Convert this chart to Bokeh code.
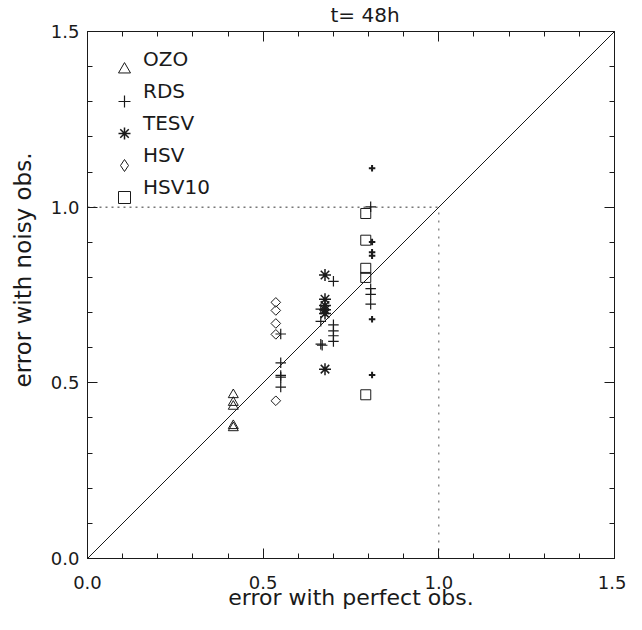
from bokeh.plotting import figure
from bokeh.models import (Range1d, LinearAxis, SingleIntervalTicker, NumeralTickFormatter,
                          Legend, LegendItem, Title)
from bokeh.embed import file_html
from bokeh.resources import INLINE
import math

# ---------------- data ----------------
title = "t= 48h"
x_label = "error with perfect obs."
y_label = "error with noisy obs."
axis_limits = [0.0, 1.5]
major_ticks = [0.0, 0.5, 1.0, 1.5]
ref_level = 1.0

ozo_x = [0.415, 0.415, 0.415, 0.415, 0.415]
ozo_y = [0.466, 0.444, 0.433, 0.378, 0.372]

rds_x = [0.806, 0.806, 0.806, 0.806, 0.700, 0.664, 0.664, 0.700, 0.700, 0.700,
         0.700, 0.664, 0.668, 0.550, 0.550, 0.550, 0.550, 0.550]
rds_y = [1.001, 0.768, 0.752, 0.724, 0.789, 0.710, 0.675, 0.665, 0.648, 0.634,
         0.618, 0.610, 0.607, 0.639, 0.557, 0.521, 0.516, 0.488]
rds_b_x = [0.810, 0.810, 0.810, 0.810, 0.810, 0.810]
rds_b_y = [1.111, 0.901, 0.872, 0.862, 0.681, 0.522]

tesv_x = [0.676, 0.676, 0.676, 0.676, 0.676, 0.676]
tesv_y = [0.807, 0.738, 0.720, 0.708, 0.697, 0.539]

hsv_x = [0.536, 0.536, 0.536, 0.536, 0.536]
hsv_y = [0.729, 0.706, 0.669, 0.638, 0.449]

hsv10_x = [0.792, 0.792, 0.792, 0.792, 0.792]
hsv10_y = [0.982, 0.906, 0.826, 0.800, 0.466]

legend_labels = ["OZO", "RDS", "TESV", "HSV", "HSV10"]

# ---------------- figure ----------------
FONT = "DejaVu Sans"
INK = "#1a1a1a"

p = figure(output_backend="svg", toolbar_location=None,
           frame_width=527, frame_height=527,
           min_border_left=87, min_border_right=12, min_border_top=29, min_border_bottom=10,
           x_range=Range1d(*axis_limits), y_range=Range1d(*axis_limits),
           x_axis_location=None, y_axis_location=None)
p.outline_line_color = None
p.grid.visible = False
p.background_fill_color = "white"
p.border_fill_color = "white"
# a range far from the data: glyphs mapped through it are clipped away (legend-only glyphs)
p.extra_x_ranges = {"legend_only": Range1d(10, 11)}

p.title = Title(text=title, align="left", offset=243, standoff=5, vertical_align="top",
                text_font=FONT, text_font_size="20px", text_font_style="normal",
                text_color=INK)


def style_axis(ax, show_labels=True):
    ax.ticker = SingleIntervalTicker(interval=0.5, num_minor_ticks=5)
    ax.formatter = NumeralTickFormatter(format="0.0")
    ax.axis_line_color = INK
    ax.axis_line_width = 1
    ax.major_tick_line_color = INK
    ax.minor_tick_line_color = INK
    ax.major_tick_in = 10
    ax.major_tick_out = 0
    ax.minor_tick_in = 5
    ax.minor_tick_out = 0
    ax.major_label_text_font = FONT
    ax.major_label_text_color = INK
    ax.axis_label_text_font = FONT
    ax.axis_label_text_color = INK
    ax.axis_label_text_font_style = "normal"
    if show_labels:
        ax.major_label_text_font_size = "18px"
    else:
        ax.major_label_overrides = {t: "" for t in major_ticks}
        ax.major_label_text_font_size = "1px"
        ax.major_label_standoff = 0


xb = LinearAxis(axis_label=x_label)
style_axis(xb)
xb.major_label_standoff = 17
xb.axis_label_standoff = -7
xb.axis_label_text_font_size = "22px"
p.add_layout(xb, "below")

yl = LinearAxis()
style_axis(yl)
yl.major_label_standoff = 8
p.add_layout(yl, "left")

# y-axis title, placed a little above the middle of the axis as in the reference
p.add_layout(Title(text=y_label, align="left", offset=171, standoff=19, vertical_align="top",
                   text_font=FONT, text_font_size="23px", text_font_style="normal",
                   text_color=INK), "left")

xt = LinearAxis()
style_axis(xt, show_labels=False)
p.add_layout(xt, "above")

yr = LinearAxis()
style_axis(yr, show_labels=False)
p.add_layout(yr, "right")

# reference lines
p.line(x=axis_limits, y=axis_limits, line_color=INK, line_width=1)
p.line(x=[axis_limits[0], ref_level], y=[ref_level, ref_level],
       line_color="#333333", line_width=1, line_dash="2 4")
p.line(x=[ref_level, ref_level], y=[axis_limits[0], ref_level],
       line_color="#555555", line_width=1, line_dash="2 6")

# data
r_ozo = p.scatter(ozo_x, ozo_y, marker="triangle", size=10, fill_color=None,
                  line_color=INK, line_width=1)
r_rds = p.scatter(rds_x, rds_y, marker="cross", size=10.5,
                  line_color=INK, line_width=1.2)
p.scatter(rds_b_x, rds_b_y, marker="cross", size=6.5, line_color=INK, line_width=2)
r_tesv = p.scatter(tesv_x, tesv_y, marker="asterisk", size=12,
                   line_color=INK, line_width=1.5)
p.scatter(hsv_x, hsv_y, marker="square", angle=math.pi / 4, size=6.8,
          fill_color=None, line_color=INK, line_width=1)
r_hsv10 = p.scatter(hsv10_x, hsv10_y, marker="square", size=10, fill_color=None,
                    line_color=INK, line_width=1)

# legend-only renderers (mapped off the frame, so nothing shows in the plot area)
r_hsv_leg = p.scatter(hsv_x, hsv_y, x_range_name="legend_only", marker="diamond",
                      size=10, fill_color=None, line_color=INK, line_width=1)
r_blank = p.scatter(hsv_x, hsv_y, x_range_name="legend_only", marker="circle",
                    size=1, fill_alpha=0, line_alpha=0)

common = dict(orientation="vertical", glyph_width=30, glyph_height=32, spacing=0,
              padding=0, margin=0, border_line_color=None, background_fill_alpha=0,
              label_standoff=4, label_text_font=FONT, label_text_color=INK, label_height=20)

# symbols
legend_sym = Legend(items=[LegendItem(label=" ", renderers=[r]) for r in
                           [r_ozo, r_rds, r_tesv, r_hsv_leg, r_hsv10]],
                    location=(22, 345), label_text_font_size="20px", **common)
# labels (raised relative to the symbols, as in the reference)
legend_txt = Legend(items=[LegendItem(label=lab, renderers=[r_blank]) for lab in legend_labels],
                    location=(22, 355), label_text_font_size="20px", **common)
p.add_layout(legend_sym)
p.add_layout(legend_txt)

open("out.html", "w").write(file_html(p, INLINE))
